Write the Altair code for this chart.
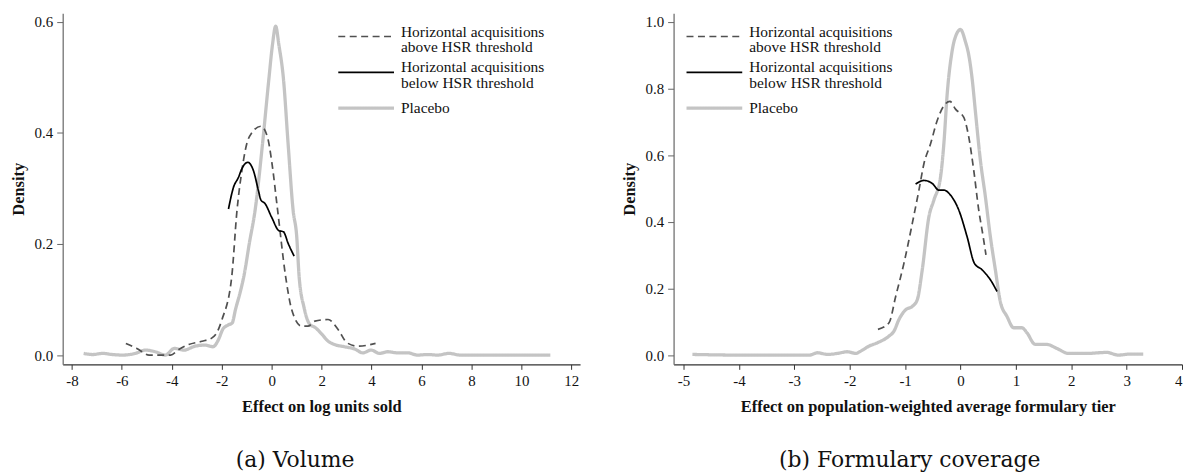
import altair as alt
import pandas as pd

SERIF = "Liberation Serif"
CAPTION_FONT = "DejaVu Serif"

SERIES = [
    "Horizontal acquisitions above HSR threshold",
    "Horizontal acquisitions below HSR threshold",
    "Placebo",
]
COLORS = ["#505050", "#000000", "#c4c4c4"]
DASHES = [[7, 4.5], [1, 0], [1, 0]]
WIDTHS = [1.7, 1.7, 3.3]

# ---------------- Panel (a) Volume ----------------
vol_placebo_x = [-7.53, -7.17, -6.77, -6.37, -5.98, -5.46, -5.06, -4.66, -4.26, -3.90,
                 -3.51, -3.07, -2.67, -2.35, -2.15, -1.95, -1.75, -1.58, -1.45, -1.25,
                 -1.10, -0.90, -0.66, -0.37, -0.11, 0.03, 0.16, 0.29, 0.47, 0.66,
                 0.86, 1.00, 1.10, 1.30, 1.53, 1.73, 2.00, 2.26, 2.52, 2.92,
                 3.32, 3.65, 3.98, 4.32, 4.65, 5.05, 5.45, 5.84, 6.24, 6.64,
                 7.10, 7.56, 8.37, 9.70, 11.16]
vol_placebo_y = [0.003, 0.001, 0.003, 0.001, 0.000, 0.003, 0.009, 0.006, 0.000, 0.012,
                 0.009, 0.016, 0.018, 0.015, 0.026, 0.047, 0.054, 0.058, 0.082, 0.115,
                 0.145, 0.200, 0.262, 0.379, 0.498, 0.558, 0.592, 0.558, 0.498, 0.379,
                 0.260, 0.215, 0.141, 0.085, 0.055, 0.050, 0.038, 0.025, 0.019, 0.015,
                 0.011, 0.004, 0.009, 0.003, 0.006, 0.004, 0.004, 0.000, 0.001, 0.000,
                 0.003, 0.000, 0.000, 0.000, 0.000]

vol_above_x = [-5.84, -5.40, -4.91, -4.05, -3.72, -3.32, -2.79, -2.39, -2.20, -1.99,
               -1.60, -1.39, -1.20, -1.00, -0.80, -0.43, -0.16, 0.00, 0.24, 0.56,
               0.80, 1.20, 1.45, 1.73, 2.26, 2.66, 3.02, 3.45, 4.16]
vol_above_y = [0.021, 0.012, 0.000, 0.000, 0.010, 0.019, 0.025, 0.031, 0.040, 0.064,
               0.141, 0.260, 0.330, 0.380, 0.400, 0.412, 0.391, 0.349, 0.260, 0.141,
               0.082, 0.052, 0.052, 0.061, 0.064, 0.046, 0.022, 0.016, 0.021]

vol_below_x = [-1.73, -1.53, -1.33, -1.20, -0.96, -0.73, -0.53, -0.43, -0.27, 0.00,
               0.29, 0.47, 0.66, 0.90]
vol_below_y = [0.263, 0.302, 0.320, 0.335, 0.347, 0.332, 0.296, 0.279, 0.273, 0.248,
               0.224, 0.222, 0.201, 0.178]

# ---------------- Panel (b) Formulary coverage ----------------
form_placebo_x = [-4.84, -4.00, -3.20, -2.73, -2.58, -2.40, -2.22, -2.04, -1.89, -1.80,
                  -1.65, -1.50, -1.29, -1.20, -1.11, -0.99, -0.87, -0.78, -0.69, -0.57,
                  -0.48, -0.36, -0.30, -0.24, -0.15, -0.06, 0.00, 0.09, 0.15, 0.21,
                  0.27, 0.36, 0.45, 0.54, 0.63, 0.72, 0.84, 0.96, 1.11, 1.20,
                  1.35, 1.56, 1.74, 1.95, 2.28, 2.64, 2.85, 3.06, 3.30]
form_placebo_y = [0.002, 0.000, 0.000, 0.000, 0.007, 0.002, 0.005, 0.010, 0.005, 0.012,
                  0.027, 0.037, 0.057, 0.072, 0.107, 0.136, 0.146, 0.166, 0.256, 0.415,
                  0.465, 0.534, 0.634, 0.783, 0.913, 0.967, 0.977, 0.940, 0.900, 0.830,
                  0.730, 0.584, 0.475, 0.355, 0.256, 0.160, 0.116, 0.082, 0.082, 0.067,
                  0.032, 0.032, 0.020, 0.005, 0.005, 0.008, 0.000, 0.003, 0.003]

form_above_x = [-1.49, -1.29, -1.17, -1.02, -0.87, -0.75, -0.66, -0.54, -0.42, -0.30,
                -0.19, -0.09, 0.06, 0.15, 0.24, 0.33, 0.41, 0.46]
form_above_y = [0.077, 0.097, 0.176, 0.276, 0.395, 0.495, 0.574, 0.634, 0.704, 0.748,
                0.761, 0.738, 0.713, 0.654, 0.554, 0.435, 0.355, 0.301]

form_below_x = [-0.81, -0.66, -0.51, -0.39, -0.30, -0.18, -0.03, 0.12, 0.25, 0.39,
                0.54, 0.66]
form_below_y = [0.513, 0.524, 0.515, 0.495, 0.495, 0.480, 0.435, 0.355, 0.276, 0.256,
                0.226, 0.191]


def frame(parts):
    rows = []
    for name, xs, ys in parts:
        for x, y in zip(xs, ys):
            rows.append({"x": x, "y": y, "series": name})
    return pd.DataFrame(rows)


vol_df = frame([
    (SERIES[2], vol_placebo_x, vol_placebo_y),
    (SERIES[0], vol_above_x, vol_above_y),
    (SERIES[1], vol_below_x, vol_below_y),
])
form_df = frame([
    (SERIES[2], form_placebo_x, form_placebo_y),
    (SERIES[0], form_above_x, form_above_y),
    (SERIES[1], form_below_x, form_below_y),
])

LABEL_EXPR = ("datum.label == 'Placebo' ? datum.label : "
              "[slice(datum.label, 0, 23), slice(datum.label, 24)]")
BASELINE_EXPR = "datum.label == 'Placebo' ? 'middle' : 'alphabetic'"


def panel(df, xdom, ydom, xticks, yticks, width, height, xtitle, caption, legx, legy, cap_dx):
    leg = alt.Legend(
        title=None, orient="none", legendX=legx, legendY=legy,
        symbolType="stroke", symbolSize=3136, clipHeight=31,
        labelExpr=LABEL_EXPR, labelBaseline={"expr": BASELINE_EXPR},
        labelFont=SERIF, labelFontSize=15.5,
        labelColor="#111111", labelLimit=400, labelOffset=5,
        rowPadding=1, padding=0,
    )
    enc_scale = dict(domain=SERIES)
    return alt.Chart(df).mark_line(interpolate="monotone", strokeCap="butt").encode(
        x=alt.X("x:Q", scale=alt.Scale(domain=xdom, nice=False, zero=False),
                axis=alt.Axis(values=xticks, title=xtitle, labelExpr="toString(datum.value)",
                              tickSize=5, labelPadding=4, titlePadding=10, labelFlush=True,
                              domainColor="#333333", tickColor="#333333")),
        y=alt.Y("y:Q", scale=alt.Scale(domain=ydom, nice=False, zero=False),
                axis=alt.Axis(values=yticks, title="Density", format=".1f",
                              tickSize=6, labelPadding=4, titlePadding=8,
                              domainColor="#666666", tickColor="#666666")),
        color=alt.Color("series:N", scale=alt.Scale(range=COLORS, **enc_scale), legend=leg),
        strokeDash=alt.StrokeDash("series:N", scale=alt.Scale(range=DASHES, **enc_scale), legend=leg),
        strokeWidth=alt.StrokeWidth("series:N", scale=alt.Scale(type="ordinal", range=WIDTHS, **enc_scale),
                                    legend=leg),
    ).properties(
        width=width, height=height,
        title=alt.TitleParams(caption, orient="bottom", anchor="middle", frame="bounds",
                              font=CAPTION_FONT, fontSize=22, fontWeight="normal", color="#111111",
                              baseline="top", offset=36, dx=cap_dx),
    )


left = panel(vol_df, [-8.37, 12.35], [-0.0167, 0.6156],
             [-8, -6, -4, -2, 0, 2, 4, 6, 8, 10, 12], [0.0, 0.2, 0.4, 0.6],
             520, 353, "Effect on log units sold", "(a) Volume", 275, 8, 0)
right = panel(form_df, [-5.18, 4.0], [-0.0278, 1.026],
              [-5, -4, -3, -2, -1, 0, 1, 2, 3, 4], [0.0, 0.2, 0.4, 0.6, 0.8, 1.0],
              511, 353, "Effect on population-weighted average formulary tier",
              "(b) Formulary coverage", 11, 8, 8)

chart = alt.hconcat(left, right, spacing=41).resolve_scale(
    x="independent", y="independent", color="independent",
    strokeDash="independent", strokeWidth="independent",
).resolve_legend(
    color="independent", strokeDash="independent", strokeWidth="independent",
).configure(
    padding={"left": 10, "top": 12, "right": 0, "bottom": 0},
    background="white",
    style={"guide-label": {"lineHeight": 15.5}},
).configure_view(
    stroke=None,
).configure_axis(
    grid=False, labelFont=SERIF, labelFontSize=15, labelColor="#111111",
    titleFont=SERIF, titleFontSize=16.5, titleFontWeight="bold", titleColor="#111111",
    domainWidth=1.2, tickWidth=1,
)

chart.save("out.html", embed_options={"renderer": "svg", "actions": False})
